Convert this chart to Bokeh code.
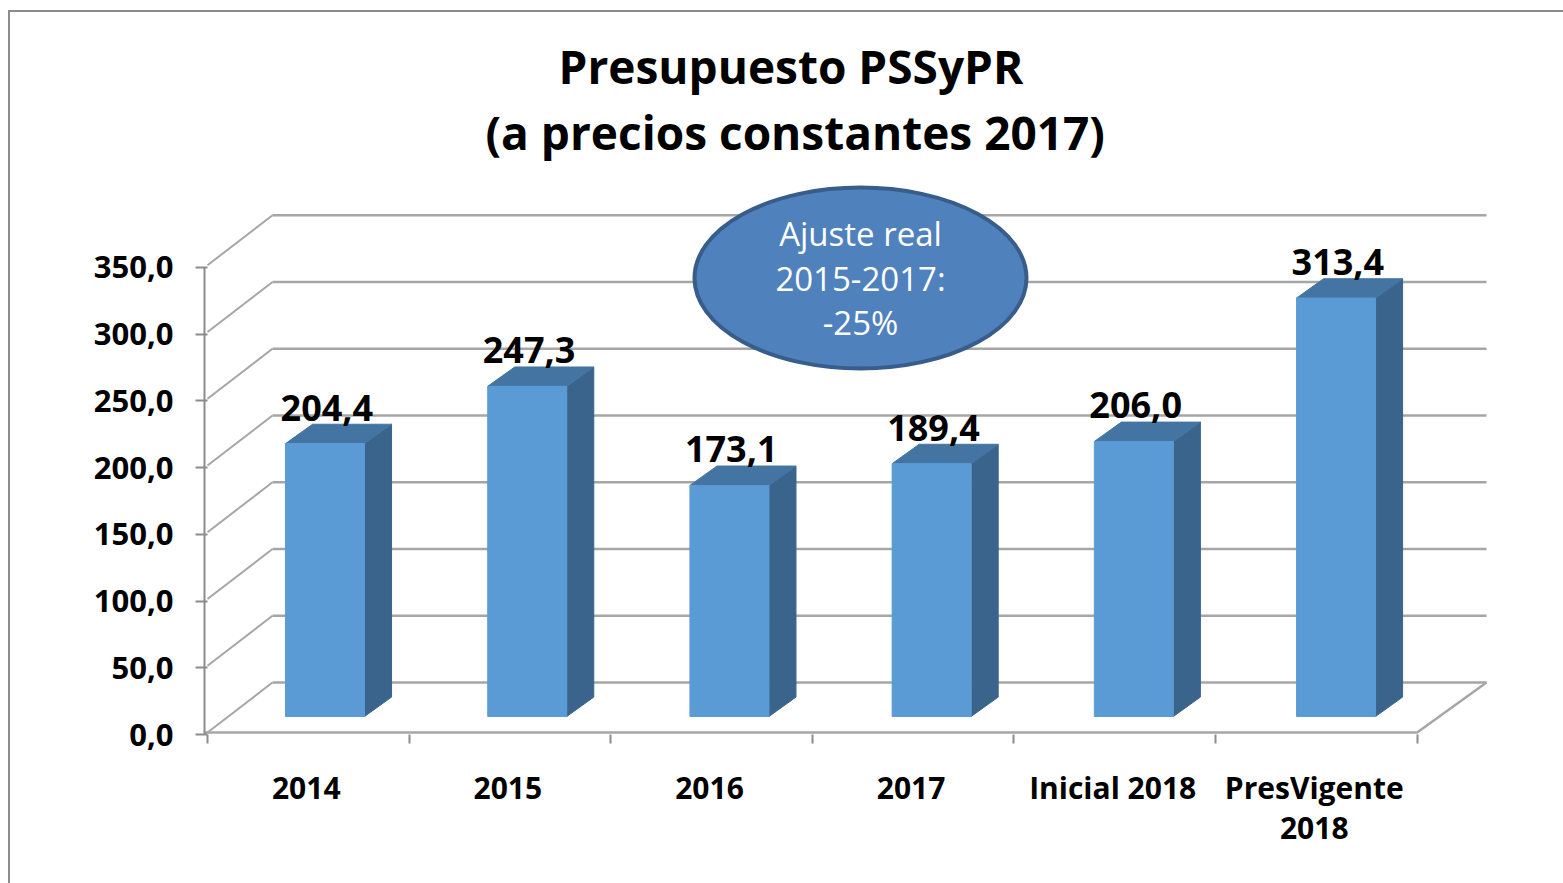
from bokeh.plotting import figure
from bokeh.embed import file_html
from bokeh.resources import INLINE
from bokeh.models import FixedTicker, InlineStyleSheet, Range1d, Title, Label
from bokeh.core.properties import value

# ---- data ----
categories = ["2014", "2015", "2016", "2017", "Inicial 2018", "PresVigente\n2018"]
values = [204.4, 247.3, 173.1, 189.4, 206.0, 313.4]
value_labels = ["204,4", "247,3", "173,1", "189,4", "206,0", "313,4"]
y_ticks = [0, 50, 100, 150, 200, 250, 300, 350]
y_tick_labels = ["0,0", "50,0", "100,0", "150,0", "200,0", "250,0", "300,0", "350,0"]
title_lines = ["Presupuesto PSSyPR", "(a precios constantes 2017)"]
note_lines = ["Ajuste real", "2015-2017:", "-25%"]

# ---- style ----
FONT = "Open Sans"
GRID = "#a6a6a6"
AXIS = "#8c8c8c"
FRONT = "#5b9bd5"
SIDE = "#3a648c"
TOP = "#4475a2"

W, H = 1563, 883
PX_X = 201.6       # pixels per category
PX_Y = 1.335       # pixels per value unit
FRAME_TOP = 175
FRAME_BOTTOM = 734
FRAME_LEFT = 204

def xd(px):
    return (px - 207) / PX_X

def yd(py):
    return (FRAME_BOTTOM - py) / PX_Y

outer_frame = InlineStyleSheet(css=f"""
:host::before {{ content:""; position:absolute; left:8px; top:10px; width:2px; height:{H-10}px;
                 background:{AXIS}; z-index:5; }}
:host::after  {{ content:""; position:absolute; left:8px; top:10px; width:{W-8}px; height:2px;
                 background:{AXIS}; z-index:5; }}
""")

p = figure(
    width=W, height=H,
    output_backend="svg", toolbar_location=None,
    x_range=Range1d(xd(FRAME_LEFT), xd(W)),
    y_range=Range1d(0, yd(FRAME_TOP)),
    min_border_left=FRAME_LEFT, min_border_right=0,
    min_border_top=FRAME_TOP, min_border_bottom=H - FRAME_BOTTOM,
    outline_line_color=None,
    background_fill_color="white", border_fill_color="white",
    stylesheets=[outer_frame],
)
p.grid.visible = False

# --- axes
ya = p.yaxis[0]
ya.ticker = FixedTicker(ticks=y_ticks)
ya.major_label_overrides = dict(zip(y_ticks, y_tick_labels))
ya.bounds = (0, 350)
ya.axis_line_color = AXIS
ya.axis_line_width = 2
ya.major_tick_line_color = AXIS
ya.major_tick_line_width = 2
ya.major_tick_out = 9
ya.major_tick_in = 3
ya.minor_tick_line_color = None
ya.major_label_standoff = 22
ya.major_label_text_font = FONT
ya.major_label_text_font_style = "bold"
ya.major_label_text_font_size = "31px"
ya.major_label_text_color = "black"

label_pos = [i + 0.49 for i in range(len(categories))]
edges = list(range(len(categories) + 1))
xa = p.xaxis[0]
xa.ticker = FixedTicker(ticks=label_pos, minor_ticks=edges)
xa.major_label_overrides = dict(zip(label_pos, categories))
xa.axis_line_color = None
xa.major_tick_line_color = None
xa.minor_tick_line_color = AXIS
xa.minor_tick_line_width = 2
xa.minor_tick_out = 9
xa.minor_tick_in = 0
xa.major_label_standoff = 23
xa.major_label_text_font = FONT
xa.major_label_text_font_style = "bold"
xa.major_label_text_font_size = "30px"
xa.major_label_text_color = "black"
xa.major_label_text_line_height = 0.98

# --- walls: grid lines from the scale
FRONT_Y = 1.5
BACK_Y = 39.0
BACK_X = xd(272)
END_X = xd(1486)
p.segment(x0=[0] * len(y_ticks), y0=[t + FRONT_Y for t in y_ticks],
          x1=[BACK_X] * len(y_ticks), y1=[t + BACK_Y for t in y_ticks],
          line_color=GRID, line_width=2)
p.segment(x0=[BACK_X] * len(y_ticks), y0=[t + BACK_Y for t in y_ticks],
          x1=[END_X] * len(y_ticks), y1=[t + BACK_Y for t in y_ticks],
          line_color=GRID, line_width=2.5)
n = len(categories)
p.line(x=[xd(FRAME_LEFT), n, END_X], y=[FRONT_Y, FRONT_Y, BACK_Y], line_color=GRID, line_width=2.5)

# --- bars
BASE = 13.5
L = 0.387
BAR = 0.392
STEP = 1.003
DX = 0.134
DY = 14.5
lefts = [i * STEP + L for i in range(n)]
rights = [l + BAR for l in lefts]
tops = [BASE + v for v in values]
side_x = [[r, r + DX, r + DX, r] for r in rights]
side_y = [[BASE, BASE + DY, t + DY, t] for t in tops]
top_x = [[l, l + DX, r + DX, r] for l, r in zip(lefts, rights)]
top_y = [[t, t + DY, t + DY, t] for t in tops]
p.patches(side_x, side_y, fill_color=SIDE, line_color=SIDE, line_width=1)
p.patches(top_x, top_y, fill_color=TOP, line_color=TOP, line_width=1)
p.quad(left=lefts, right=rights, bottom=[BASE] * n, top=tops,
       fill_color=FRONT, line_color=FRONT, line_width=1)

# --- value labels
p.text(x=[(l + r) / 2 + 0.009 for l, r in zip(lefts, rights)], y=tops, text=value_labels,
       text_font=value(FONT), text_font_style="bold", text_font_size="36px",
       text_color="black", text_align="center", text_baseline="middle", y_offset=-36)

# --- note bubble
p.ellipse(x=[xd(860)], y=[yd(277.5)], width=[332 / PX_X], height=[181 / PX_Y],
          fill_color="#4f81bd", line_color="#385d8a", line_width=4)
for line, py in zip(note_lines, [233, 278, 322]):
    p.add_layout(Label(x=xd(860), y=yd(py), text=line, text_font=FONT,
                       text_font_size="33px", text_color="white",
                       text_align="center", text_baseline="middle"))

# --- title: the first one added sits nearest the plot
p.add_layout(Title(text=title_lines[1], align="left", offset=281, standoff=26,
                   text_font=FONT, text_font_style="bold", text_font_size="46px",
                   text_color="black"), "above")
p.add_layout(Title(text=title_lines[0], align="left", offset=354, standoff=-22,
                   text_font=FONT, text_font_style="bold", text_font_size="46px",
                   text_color="black"), "above")

open("out.html", "w").write(file_html(p, INLINE))
